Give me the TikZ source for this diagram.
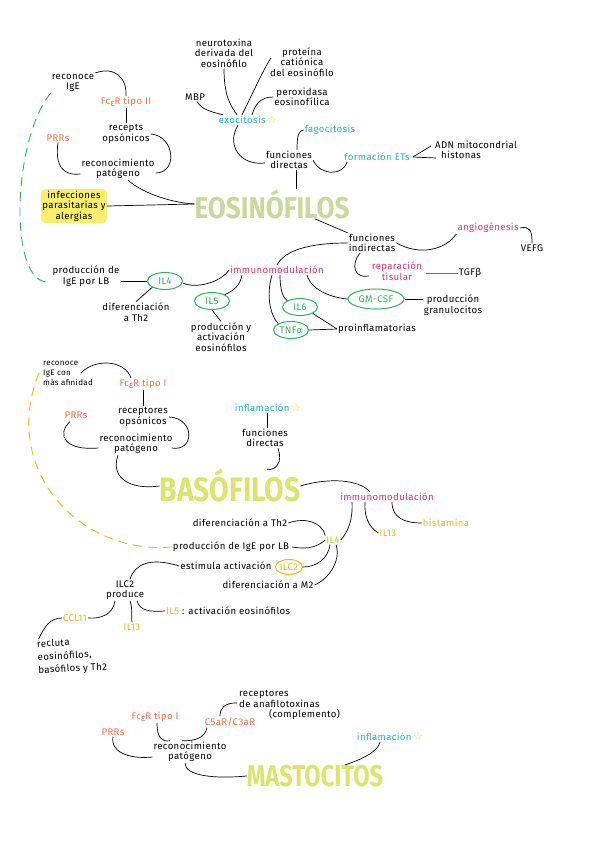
\documentclass[tikz,border=0pt]{standalone}
\usepackage{fontspec}
\setmainfont{Fira Sans}[LetterSpace=4]
\newfontfamily\ttlf{Fira Sans}
\newfontfamily\symf{DejaVu Sans}
\usetikzlibrary{shapes.geometric}
\definecolor{orC}{HTML}{F26F45}
\definecolor{cyC}{HTML}{1BB5D3}
\definecolor{pkC}{HTML}{E6306A}
\definecolor{grC}{HTML}{2DB35B}
\definecolor{ylC}{HTML}{F4B41A}
\definecolor{stC}{HTML}{EFE020}
\definecolor{eoC}{HTML}{C9D99B}
\definecolor{baC}{HTML}{DCE46E}
\definecolor{hlC}{HTML}{FBEE6E}
\newcommand{\stari}{{\color{stC}\symf\fontsize{11}{11}\selectfont ☆}}
\newcommand{\fceps}{Fc\raisebox{-1.5pt}{ε}R}
\tikzset{
  tx/.style={font=\fontsize{9.6}{10.5}\selectfont, align=center, inner sep=1pt, text=black},
  sm/.style={font=\fontsize{8}{10}\selectfont, align=left, inner sep=1pt, text=black},
  orn/.style={tx, text=orC},
  cyn/.style={tx, text=cyC},
  pkn/.style={tx, text=pkC},
  yln/.style={tx, text=ylC},
  gel/.style={tx, ellipse, draw=grC, text=grC, line width=1pt, minimum width=35pt, minimum height=17pt, inner sep=0pt},
  yel/.style={tx, ellipse, draw=ylC, text=ylC, line width=1pt, minimum width=27pt, minimum height=15pt, inner sep=0pt},
  ttl/.style={font=\ttlf\fontsize{30}{30}\selectfont\bfseries, inner sep=0pt},
  hl/.style={tx, fill=hlC, rounded corners=4pt, inner sep=1.5pt},
  cn/.style={line width=0.7pt, black},
  gdash/.style={line width=0.9pt, grC, dash pattern=on 9pt off 6pt},
  ydash/.style={line width=0.9pt, ylC, dash pattern=on 9pt off 6pt},
}
\begin{document}
\begin{tikzpicture}[x=1pt,y=-1pt]
\fill[white] (0,0) rectangle (600,848);
\useasboundingbox (0,0) rectangle (600,848);

% ===== EOSINOFILOS =====
\node[tx] (reIgE) at (73,83) {reconoce\\IgE};
\node[orn] (fc2) at (126,102) {\fceps\ tipo II};
\node[tx] (rop) at (126,134) {recepts\\opsónicos};
\node[orn] (prr1) at (58,138) {PRRs};
\node[tx] (rp1) at (118,169) {reconocimiento\\patógeno};
\node[hl] (inf) at (74,206) {infecciones\\parasitarias y\\alergias};
\node[ttl, text=eoC] (eos) at (272,204) {\scalebox{0.87}[1]{EOSINÓFILOS}};
\node[tx] (neu) at (224,53) {neurotoxina\\derivada del\\eosinófilo};
\node[tx] (pro) at (302,62) {proteína\\catiónica\\del eosinófilo};
\node[tx] (mbp) at (195,97) {MBP};
\node[tx] (per) at (302,97) {peroxidasa\\eosinofílica};
\node[cyn] (exo) at (248,120) {exocitosis\,\stari};
\node[cyn] (fag) at (330,130) {fagocitosis};
\node[tx] (fd1) at (289,160) {funciones\\directas};
\node[cyn] (fet) at (377,157) {formación ETs};
\node[tx, align=left, anchor=west] (adn) at (434,150) {ADN mitocondrial\\\hspace*{6pt}histonas};
\node[tx] (fi1) at (372,243) {funciones\\indirectas};
\node[pkn] (ang) at (488,228) {angiogénesis};
\node[tx] (vefg) at (532,248) {VEFG};
\node[pkn] (rep) at (397,271) {reparación\\tisular};
\node[tx] (tgf) at (470,273) {TGFβ};
\node[pkn] (imm1) at (277,270) {immunomodulación};
\node[gel] (il4a) at (165,281) {IL4};
\node[tx] (pige) at (86,276) {producción de\\IgE por LB};
\node[tx] (dth) at (136,312) {diferenciación\\a Th2};
\node[gel] (il5a) at (212,301) {IL5};
\node[tx] (pae) at (221,337) {producción y\\activación\\eosinófilos};
\node[gel] (il6) at (300,307) {IL6};
\node[gel] (tnf) at (291,330) {TNFα};
\node[gel, minimum width=56pt, minimum height=20pt] (gm) at (376,299) {GM-CSF};
\node[tx] (pgr) at (453,305) {producción\\granulocitos};
\node[tx] (proi) at (377,329) {proinflamatorias};

\draw[cn] (reIgE.north east) .. controls (115,66) and (127,78) .. (fc2.north);
\draw[cn] (fc2.south) -- (rop.north);
\draw[cn] (rop.east) .. controls (175,136) and (178,173) .. ([shift={(0,4)}]rp1.east);
\draw[cn] (prr1.south) .. controls (55,165) and (62,176) .. ([shift={(0,5)}]rp1.west);
\draw[cn] ([shift={(10,0)}]rp1.south) .. controls (145,195) and (175,203) .. (eos.west);
\draw[cn] (inf.east) -- (eos.west);
\draw[gdash] (reIgE.south west) .. controls (12,140) and (8,286) .. ([shift={(-2,6)}]pige.west);
\draw[cn] ([shift={(7,0)}]fd1.south) -- ([shift={(7,0)}]fd1.south |- eos.north);
\draw[cn] ([shift={(-10,0)}]exo.south) .. controls (226,145) and (240,166) .. ([shift={(0,3)}]fd1.west);
\draw[cn] ([shift={(8,0)}]fd1.north) .. controls (297,135) and (299,130) .. (fag.west);
\draw[cn] (fd1.east) .. controls (320,176) and (343,176) .. ([shift={(-30,0)}]fet.south);
\draw[cn] ([shift={(2,0)}]fet.east) -- ([shift={(-3,-4)}]adn.west);
\draw[cn] ([shift={(2,0)}]fet.east) -- ([shift={(2,8)}]adn.west);
\draw[cn] ([shift={(2,0)}]mbp.south) .. controls (202,110) and (212,112) .. ([shift={(-25,0)}]exo.north);
\draw[cn] (neu.south) .. controls (224,95) and (230,105) .. ([shift={(-11,0)}]exo.north);
\draw[cn] ([shift={(2,-4)}]pro.west) .. controls (262,72) and (252,95) .. ([shift={(-6,0)}]exo.north);
\draw[cn] (per.west) .. controls (260,97) and (255,105) .. ([shift={(4,0)}]exo.north);
\draw[cn] ([shift={(-35,0)}]eos.south east) -- (fi1.north west);
\draw[cn] (fi1.east) .. controls (420,256) and (445,250) .. (ang.south west);
\draw[cn] (ang.east) .. controls (530,226) and (532,230) .. (vefg.north);
\draw[cn] ([shift={(-12,0)}]fi1.south) .. controls (350,265) and (355,279) .. ([shift={(-2,5)}]rep.west);
\draw[pkC, line width=1pt] ([shift={(3,2)}]rep.east) -- (tgf.west);
\draw[cn] (fi1.west) .. controls (310,243) and (285,250) .. (imm1.north);
\draw[cn] (imm1.west) .. controls (220,283) and (195,289) .. ([shift={(0,2)}]il4a.east);
\draw[cn] ([shift={(-35,0)}]imm1.south) .. controls (240,285) and (235,290) .. (il5a.north east);
\draw[cn] ([shift={(3,0)}]imm1.south) .. controls (280,290) and (283,298) .. (il6.north west);
\draw[cn] ([shift={(-5,0)}]imm1.south) .. controls (266,295) and (270,315) .. (tnf.north west);
\draw[cn] ([shift={(30,0)}]imm1.south) .. controls (312,292) and (335,298) .. (gm.west);
\draw[cn] (il6.south east) -- (proi.west);
\draw[cn] (tnf.east) -- (proi.west);
\draw[cn] (gm.east) -- (gm.east -| pgr.west);
\draw[cn] ([shift={(0,5)}]pige.east) -- (il4a.west);
\draw[cn] (il4a.south west) -- (dth.north);
\draw[cn] (il5a.south) -- (pae.north);

% ===== BASOFILOS =====
\node[sm] (reIgE2) at (68,373) {reconoce\\IgE con\\más afinidad};
\node[orn] (fc1b) at (143,384) {\fceps\ tipo I};
\node[tx] (rop2) at (143,417) {receptores\\opsónicos};
\node[orn] (prr2) at (76,415) {PRRs};
\node[tx] (rp2) at (136,444) {reconocimiento\\patógeno};
\node[ttl, text=baC, font=\ttlf\fontsize{34}{34}\selectfont\bfseries] (bas) at (230,486) {\scalebox{0.83}[1]{BASÓFILOS}};
\node[cyn] (inf2) at (268,408) {inflamación\,\stari};
\node[tx] (fd2) at (265,438) {funciones\\directas};
\node[pkn] (imm2) at (387,497) {immunomodulación};
\node[yln] (hist) at (446,523) {histamina};
\node[yln] (il13b) at (388,533) {IL13};
\node[yln] (il4b) at (333,540) {IL4};
\node[tx] (dth2) at (240,523) {diferenciación a Th2};
\node[tx] (pige2) at (231,547) {producción de IgE por LB};
\node[tx] (esti) at (226,566) {estimula activación};
\node[yel] (ilc2) at (289,567) {ILC2};
\node[tx] (dm2) at (268,585) {diferenciación a M2};
\node[tx] (ilcp) at (125,590) {ILC2\\produce};
\node[tx, anchor=west] (il5b) at (165,611) {\textcolor{ylC}{IL5} : activación eosinófilos};
\node[yln] (il13c) at (132,627) {IL13};
\node[yln] (ccl) at (75,618) {CCL11};
\node[tx, align=left, rotate=3, font=\fontsize{9.6}{13}\selectfont] (recl) at (72,656) {recluta\\eosinófilos,\\basófilos y Th2};

\draw[ydash] ([shift={(-3,0)}]reIgE2.west) .. controls (0,470) and (80,555) .. (pige2.west);
\draw[cn] ([shift={(-13,0)}]reIgE2.east) .. controls (95,358) and (125,360) .. ([shift={(-12,0)}]fc1b.north);
\draw[cn] (fc1b.south) -- (rop2.north);
\draw[cn] (rop2.east) .. controls (195,418) and (195,452) .. ([shift={(-2,4)}]rp2.east);
\draw[cn] ([shift={(-6,2)}]prr2.south) .. controls (56,435) and (65,451) .. ([shift={(0,4)}]rp2.west);
\draw[cn] ([shift={(-18,0)}]rp2.south) .. controls (110,478) and (130,490) .. (bas.west);
\draw[cn] ([shift={(2,0)}]fd2.north) -- ([shift={(2,0)}]fd2.north |- inf2.south);
\draw[cn] ([shift={(13,0)}]fd2.south) .. controls (283,462) and (276,471) .. ([shift={(37,0)}]bas.north);
\draw[cn] (bas.east) .. controls (330,477) and (360,480) .. ([shift={(-17,0)}]imm2.north);
\draw[cn] ([shift={(5,0)}]imm2.south) .. controls (392,518) and (405,523) .. (hist.west);
\draw[cn] ([shift={(-22,0)}]imm2.south) .. controls (364,515) and (368,527) .. (il13b.west);
\draw[cn] ([shift={(-35,0)}]imm2.south) .. controls (353,520) and (348,532) .. (il4b.east);
\draw[cn] (dth2.east) .. controls (305,517) and (322,522) .. (il4b.north west);
\draw[cn] ([shift={(2,0)}]pige2.east) .. controls (310,550) and (318,546) .. (il4b.west);
\draw[cn] (ilc2.east) .. controls (315,567) and (328,560) .. ([shift={(-3,0)}]il4b.south);
\draw[cn] (dm2.east) .. controls (330,578) and (341,560) .. ([shift={(3,0)}]il4b.south);
\draw[cn] (esti.west) .. controls (150,557) and (135,564) .. ([shift={(5,0)}]ilcp.north);
\draw[cn] ([shift={(12,0)}]ilcp.south) .. controls (140,611) and (150,612) .. (il5b.west);
\draw[cn] ([shift={(5,0)}]ilcp.south) .. controls (133,610) and (131,614) .. (il13c.north);
\draw[cn] ([shift={(-10,0)}]ilcp.south) .. controls (113,615) and (100,619) .. (ccl.east);
\draw[cn] (ccl.west) .. controls (50,618) and (45,626) .. ([shift={(3,0)}]recl.north west);

% ===== MASTOCITOS =====
\node[tx, align=left, anchor=north west] (rana) at (238,689) {receptores\\de anafilotoxinas\\\hspace*{30pt}(complemento)};
\node[orn] (fc1m) at (155,717) {\fceps\ tipo I};
\node[orn] (c5a) at (230,722) {C5aR/C3aR};
\node[orn] (prr3) at (113,732) {PRRs};
\node[tx] (rp3) at (190,752) {reconocimiento\\patógeno};
\node[ttl, text=baC] (mas) at (315,776) {\scalebox{0.79}[1]{MASTOCITOS}};
\node[cyn] (inf3) at (390,737) {inflamación\,\stari};

\draw[cn] ([shift={(-1,-2)}]rana.west) .. controls (224,703) and (220,708) .. ([shift={(-10,0)}]c5a.north);
\draw[cn] ([shift={(2,0)}]fc1m.south) .. controls (157,738) and (162,742) .. ([shift={(-20,0)}]rp3.north);
\draw[cn] ([shift={(-23,0)}]c5a.south) .. controls (205,738) and (195,741) .. ([shift={(-8,0)}]rp3.north);
\draw[cn] (prr3.south) .. controls (110,755) and (135,759) .. ([shift={(0,5)}]rp3.west);
\draw[cn] ([shift={(-5,0)}]rp3.south) .. controls (185,776) and (215,779) .. (mas.west);
\draw[cn] ([shift={(-10,0)}]inf3.south) .. controls (378,752) and (360,760) .. ([shift={(30,0)}]mas.north);
\end{tikzpicture}
\end{document}
